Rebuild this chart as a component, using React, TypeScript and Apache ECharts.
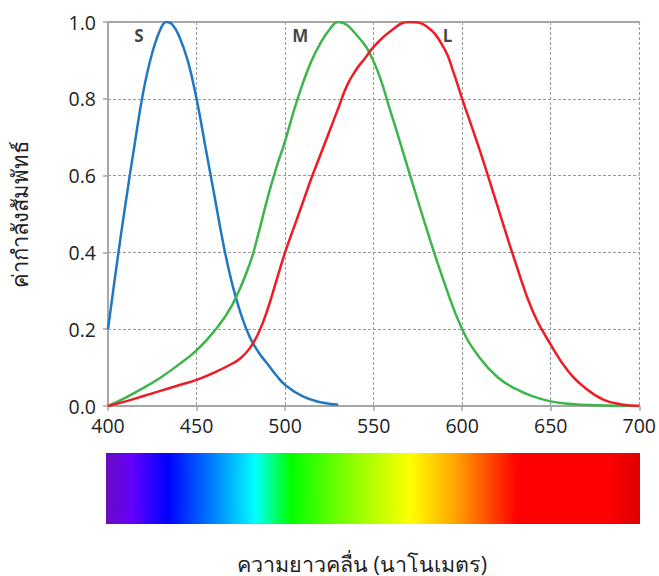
import React, { useEffect, useRef } from "react";
import * as echarts from "echarts";

const sWave = [400, 405, 410, 415, 420, 425, 430, 433, 436, 440, 445, 450, 455, 460, 465, 470, 475, 480, 485, 490, 495, 500, 510, 520, 530];
const sValues = [0.2, 0.37, 0.53, 0.68, 0.82, 0.92, 0.985, 1.0, 0.995, 0.965, 0.9, 0.8, 0.675, 0.55, 0.425, 0.32, 0.24, 0.18, 0.14, 0.11, 0.08, 0.055, 0.025, 0.01, 0.003];

const mWave = [400, 410, 420, 430, 440, 450, 460, 470, 480, 485, 490, 495, 500, 505, 510, 515, 520, 525, 530, 540, 550, 560, 570, 580, 590, 600, 610, 620, 630, 640, 650, 660, 675, 700];
const mValues = [0, 0.022, 0.047, 0.075, 0.108, 0.145, 0.195, 0.262, 0.37, 0.45, 0.54, 0.62, 0.69, 0.77, 0.84, 0.9, 0.945, 0.98, 1.0, 0.968, 0.897, 0.76, 0.61, 0.46, 0.32, 0.2, 0.125, 0.075, 0.045, 0.025, 0.012, 0.006, 0.002, 0];

const lWave = [400, 410, 420, 430, 440, 450, 460, 470, 475, 480, 485, 490, 495, 500, 505, 510, 515, 520, 525, 530, 535, 540, 545, 550, 560, 570, 580, 590, 595, 600, 610, 620, 630, 640, 650, 660, 670, 680, 690, 700];
const lValues = [0, 0.012, 0.026, 0.04, 0.054, 0.068, 0.087, 0.11, 0.125, 0.15, 0.19, 0.25, 0.325, 0.4, 0.465, 0.53, 0.595, 0.655, 0.715, 0.775, 0.835, 0.875, 0.905, 0.935, 0.978, 1.0, 0.988, 0.93, 0.87, 0.8, 0.665, 0.52, 0.375, 0.245, 0.16, 0.09, 0.045, 0.016, 0.004, 0];

const coneNames = ["S", "M", "L"];
const conePosX = [417.5, 508.5, 591.8];
const conePosY = [0.966, 0.966, 0.966];

const xTickMin = 400;
const xTickMax = 700;
const xTickStep = 50;
const yTickMin = 0;
const yTickMax = 1;
const yTickStep = 0.2;

const yAxisTitle = "ค่ากำลังสัมพัทธ์";
const xAxisTitle = "ความยาวคลื่น (นาโนเมตร)";

const spectrumStops = [
  [0, "#6a0bc0"],
  [0.05, "#6300ff"],
  [0.116, "#0000ff"],
  [0.2, "#0080ff"],
  [0.28, "#00ffff"],
  [0.345, "#00ff00"],
  [0.45, "#80ff00"],
  [0.57, "#ffff00"],
  [0.65, "#ffaa00"],
  [0.71, "#ff5500"],
  [0.77, "#ff0000"],
  [0.94, "#ff0000"],
  [1, "#dd0000"],
] as [number, string][];

const zip = (xs: number[], ys: number[]) => xs.map((x, i) => [x, ys[i]]);

export default function App() {
  const ref = useRef<HTMLDivElement>(null);
  useEffect(() => {
    if (!ref.current) return;
    const chart = echarts.init(ref.current, null, { renderer: "svg" });
    const font = "'Open Sans', 'Noto Sans', sans-serif";
    const gridColor = "#a6a6a6";
    const lineCommon = {
      type: "line",
      smooth: 0.45,
      showSymbol: false,
    };
    chart.setOption({
      animation: false,
      backgroundColor: "#ffffff",
      grid: { left: 102, right: 19, top: 22, bottom: 170, containLabel: false },
      xAxis: [
        {
          type: "value",
          min: xTickMin,
          max: xTickMax,
          interval: xTickStep,
          axisLine: { show: true, lineStyle: { color: gridColor, width: 2 } },
          axisTick: { show: true, length: 5, lineStyle: { color: gridColor, width: 1.5 } },
          axisLabel: { color: "#222", fontSize: 19.5, fontFamily: font, margin: 9 },
          splitLine: { show: true, lineStyle: { color: "#9a9a9a", type: [3, 2], width: 1 } },
        },
        {
          type: "value",
          position: "top",
          min: xTickMin,
          max: xTickMax,
          interval: xTickStep,
          axisLine: { show: true, lineStyle: { color: gridColor, width: 2 } },
          axisTick: { show: false },
          axisLabel: { show: false },
          splitLine: { show: false },
        },
      ],
      yAxis: {
        type: "value",
        min: yTickMin,
        max: yTickMax,
        interval: yTickStep,
        name: yAxisTitle,
        nameLocation: "middle",
        nameGap: 78,
        nameRotate: 90,
        nameTextStyle: { color: "#222", fontSize: 22, fontFamily: font },
        axisLine: { show: true, lineStyle: { color: gridColor, width: 2 } },
        axisTick: { show: true, length: 5, lineStyle: { color: gridColor, width: 1.5 } },
        axisLabel: {
          color: "#222",
          fontSize: 19.5,
          fontFamily: font,
          margin: 12,
          formatter: (v: number) => v.toFixed(1),
        },
        splitLine: { show: true, lineStyle: { color: "#9a9a9a", type: [3, 2], width: 1 } },
      },
      series: [
        { ...lineCommon, name: "S", data: zip(sWave, sValues), lineStyle: { color: "#1f78c1", width: 2.5 } },
        { ...lineCommon, name: "M", data: zip(mWave, mValues), lineStyle: { color: "#3db54a", width: 2.5 } },
        { ...lineCommon, name: "L", data: zip(lWave, lValues), lineStyle: { color: "#ee1c25", width: 2.5 } },
        {
          type: "scatter",
          symbolSize: 0,
          data: coneNames.map((n, i) => [conePosX[i], conePosY[i], n]),
          label: {
            show: true,
            position: "inside",
            formatter: (p: any) => p.data[2],
            color: "#111",
            fontWeight: "bold",
            fontSize: 17,
            fontFamily: font,
          },
          silent: true,
        },
      ],
      graphic: [
        {
          type: "rect",
          shape: { x: 106, y: 453, width: 534, height: 71 },
          style: {
            fill: new echarts.graphic.LinearGradient(
              0,
              0,
              1,
              0,
              spectrumStops.map(([offset, color]) => ({ offset, color }))
            ),
          },
        },
        {
          type: "text",
          x: 362,
          y: 563,
          style: {
            text: xAxisTitle,
            fill: "#222",
            fontSize: 21.5,
            fontFamily: font,
            align: "center",
            verticalAlign: "middle",
          },
        },
      ],
    });
    return () => chart.dispose();
  }, []);
  return (
    <div
      ref={ref}
      style={{ position: "fixed", left: 0, top: 0, width: 659, height: 576 }}
    />
  );
}
